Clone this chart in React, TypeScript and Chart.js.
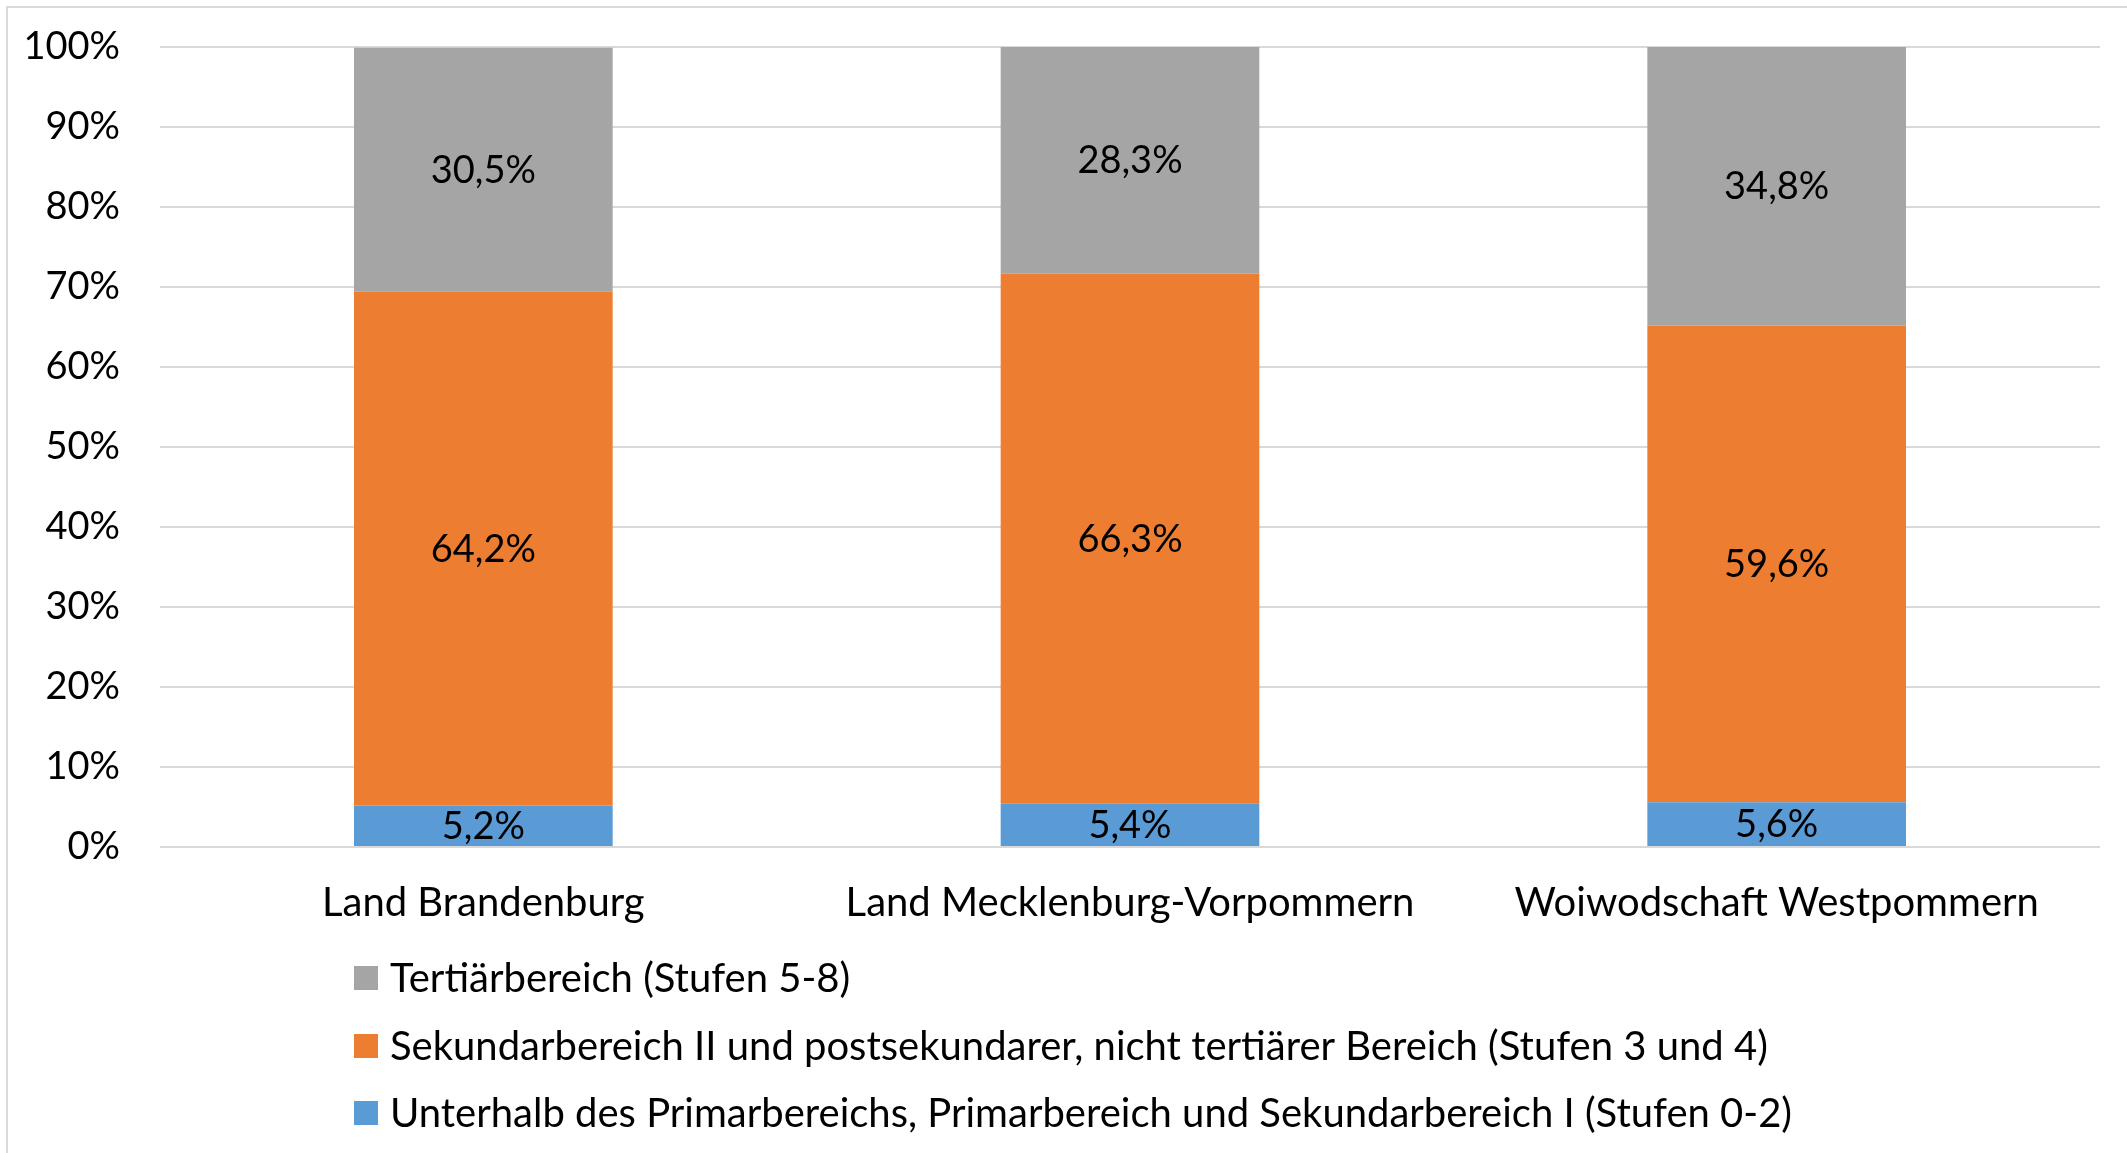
import React, { useEffect, useRef } from "react";
import { Chart, registerables } from "chart.js";

Chart.register(...registerables);

const categories = ["Land Brandenburg", "Land Mecklenburg-Vorpommern", "Woiwodschaft Westpommern"];
const seriesNames = [
  "Unterhalb des Primarbereichs, Primarbereich und Sekundarbereich I (Stufen 0-2)",
  "Sekundarbereich II und postsekundarer, nicht tertiärer Bereich (Stufen 3 und 4)",
  "Tertiärbereich (Stufen 5-8)",
];
const lowValues = [5.2, 5.4, 5.6];
const midValues = [64.2, 66.3, 59.6];
const highValues = [30.5, 28.3, 34.8];
const seriesColors = ["#5B9BD5", "#ED7D31", "#A5A5A5"];
const yTicks = [0, 10, 20, 30, 40, 50, 60, 70, 80, 90, 100];

const FONT_FAMILY = "Lato, 'Open Sans', sans-serif";
const TEXT_SIZE = 40;
const NUM_SIZE = 38;

const fmt = (v: number) => v.toFixed(1).replace(".", ",") + "%";

const dataLabelPlugin = {
  id: "dataLabels",
  afterDatasetsDraw(chart: any) {
    const ctx = chart.ctx;
    ctx.save();
    ctx.font = `${NUM_SIZE}px ${FONT_FAMILY}`;
    ctx.fillStyle = "#000000";
    ctx.textAlign = "center";
    ctx.textBaseline = "middle";
    chart.data.datasets.forEach((ds: any, i: number) => {
      const meta = chart.getDatasetMeta(i);
      meta.data.forEach((bar: any, j: number) => {
        const { x, y, base } = bar.getProps(["x", "y", "base"], true);
        ctx.fillText(fmt(ds.data[j]), x, (y + base) / 2 + 1);
      });
    });
    ctx.restore();
  },
};

const legendPlugin = {
  id: "verticalLegend",
  afterDraw(chart: any) {
    const ctx = chart.ctx;
    const bottom = chart.chartArea.bottom;
    const markerX = 354;
    const textX = 390;
    const rowOffsets = [131, 199, 266];
    ctx.save();
    ctx.font = `${TEXT_SIZE}px ${FONT_FAMILY}`;
    ctx.textAlign = "left";
    ctx.textBaseline = "middle";
    const ds = chart.data.datasets;
    for (let k = 0; k < ds.length; k++) {
      const d = ds[ds.length - 1 - k];
      const cy = bottom + rowOffsets[k];
      ctx.fillStyle = d.backgroundColor;
      ctx.fillRect(markerX, cy - 12, 24, 24);
      ctx.fillStyle = "#000000";
      ctx.fillText(d.label, textX, cy + 1);
    }
    ctx.restore();
  },
};

export default function App() {
  const canvasRef = useRef<HTMLCanvasElement | null>(null);

  useEffect(() => {
    if (!canvasRef.current) return;
    const chart = new Chart(canvasRef.current, {
      type: "bar",
      data: {
        labels: categories,
        datasets: [
          { label: seriesNames[0], data: lowValues, backgroundColor: seriesColors[0] },
          { label: seriesNames[1], data: midValues, backgroundColor: seriesColors[1] },
          { label: seriesNames[2], data: highValues, backgroundColor: seriesColors[2] },
        ],
      },
      options: {
        animation: false,
        responsive: false,
        maintainAspectRatio: false,
        devicePixelRatio: 1,
        datasets: {
          bar: { barPercentage: 0.4, categoryPercentage: 1, borderWidth: 0 },
        },
        layout: { padding: { left: 0, top: 47, right: 27, bottom: 206 } },
        plugins: {
          legend: { display: false },
          tooltip: { enabled: false },
        },
        scales: {
          x: {
            stacked: true,
            grid: { display: false, drawTicks: false },
            border: { display: false },
            ticks: {
              color: "#000000",
              padding: 32,
              font: { family: FONT_FAMILY, size: TEXT_SIZE },
              maxRotation: 0,
              autoSkip: false,
            },
            afterFit: (s: any) => {
              s.height = 100;
              s.paddingLeft = 0;
              s.paddingRight = 0;
            },
          },
          y: {
            stacked: true,
            min: 0,
            max: 100,
            grid: { color: "#d9d9d9", lineWidth: 2, drawTicks: false },
            border: { display: false },
            afterBuildTicks: (s: any) => {
              s.ticks = yTicks.map((v) => ({ value: v }));
            },
            ticks: {
              color: "#000000",
              padding: 40,
              font: { family: FONT_FAMILY, size: NUM_SIZE },
              callback: (v: any) => v + "%",
            },
            afterFit: (s: any) => {
              s.width = 160;
              s.paddingTop = 0;
              s.paddingBottom = 0;
            },
          },
        },
      },
      plugins: [dataLabelPlugin, legendPlugin],
    });
    return () => chart.destroy();
  }, []);

  return (
    <div
      style={{
        position: "fixed",
        left: 0,
        top: 0,
        width: 2127,
        height: 1153,
        overflow: "hidden",
        background: "#ffffff",
      }}
    >
      <div
        style={{
          position: "absolute",
          left: 6,
          top: 6,
          width: 2200,
          height: 1200,
          borderLeft: "2px solid #d9d9d9",
          borderTop: "2px solid #d9d9d9",
        }}
      />
      <canvas
        ref={canvasRef}
        width={2127}
        height={1153}
        style={{ position: "absolute", left: 0, top: 0, width: 2127, height: 1153 }}
      />
    </div>
  );
}
